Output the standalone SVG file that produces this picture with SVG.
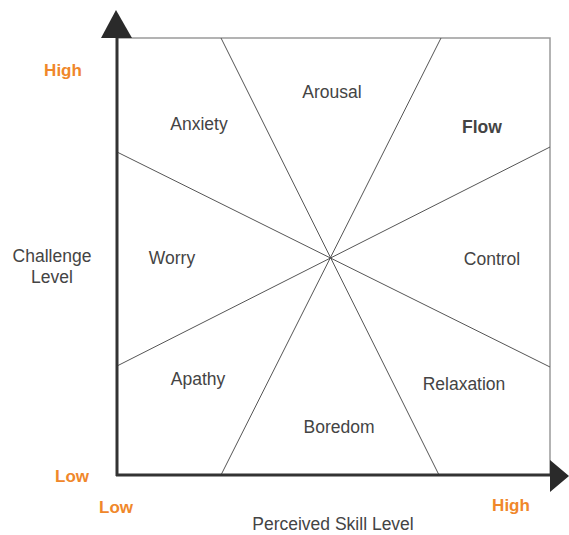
<svg xmlns="http://www.w3.org/2000/svg" width="569" height="535" viewBox="0 0 569 535">
  <style>
    .zone { font-family: "Liberation Sans", Arial, sans-serif; font-size: 17.5px; fill: #444; text-anchor: middle; }
    .bold { font-weight: bold; }
    .scale { font-family: "Liberation Sans", Arial, sans-serif; font-size: 17px; font-weight: bold; fill: #f0872a; text-anchor: middle; }
    .frame { fill: none; stroke: #9a9a9a; stroke-width: 1.5; }
    .divider { stroke: #555; stroke-width: 1; fill: none; }
    .axis { stroke: #333; stroke-width: 3; fill: none; }
    .head { fill: #2a2a2a; }
  </style>

  <rect width="569" height="535" fill="#fff"/>

  <!-- outer frame (top and right edges) -->
  <g id="frame">
    <polyline class="frame" points="117,38 550,38 550,475"/>
  </g>

  <!-- dividing lines through the centre point -->
  <g id="connectors">
    <line class="divider" x1="221" y1="38" x2="439" y2="475"/>
    <line class="divider" x1="441" y1="38" x2="221" y2="475"/>
    <line class="divider" x1="117" y1="152" x2="550" y2="367"/>
    <line class="divider" x1="117" y1="366" x2="550" y2="147"/>
  </g>

  <!-- axes with arrowheads -->
  <g id="axes">
    <line class="axis" x1="117" y1="476" x2="117" y2="36"/>
    <line class="axis" x1="116" y1="475" x2="552" y2="475"/>
    <polygon class="head" points="116,10 132,38 101,38"/>
    <polygon class="head" points="569,476 550,460 550,492"/>
  </g>

  <!-- zone labels -->
  <g id="arousal"><text class="zone" x="332" y="98">Arousal</text></g>
  <g id="anxiety"><text class="zone" x="199" y="130">Anxiety</text></g>
  <g id="flow"><text class="zone bold" x="482" y="133">Flow</text></g>
  <g id="worry"><text class="zone" x="172" y="264">Worry</text></g>
  <g id="control"><text class="zone" x="492" y="265">Control</text></g>
  <g id="apathy"><text class="zone" x="198" y="385">Apathy</text></g>
  <g id="relaxation"><text class="zone" x="464" y="390">Relaxation</text></g>
  <g id="boredom"><text class="zone" x="339" y="433">Boredom</text></g>

  <!-- axis titles -->
  <g id="challenge-level">
    <text class="zone" x="52" y="262">Challenge</text>
    <text class="zone" x="52" y="283">Level</text>
  </g>
  <g id="skill-level"><text class="zone" x="333" y="530">Perceived Skill Level</text></g>

  <!-- scale labels -->
  <g id="scale-labels">
    <text class="scale" x="63" y="76">High</text>
    <text class="scale" x="72" y="482">Low</text>
    <text class="scale" x="116" y="513">Low</text>
    <text class="scale" x="511" y="511">High</text>
  </g>
</svg>
